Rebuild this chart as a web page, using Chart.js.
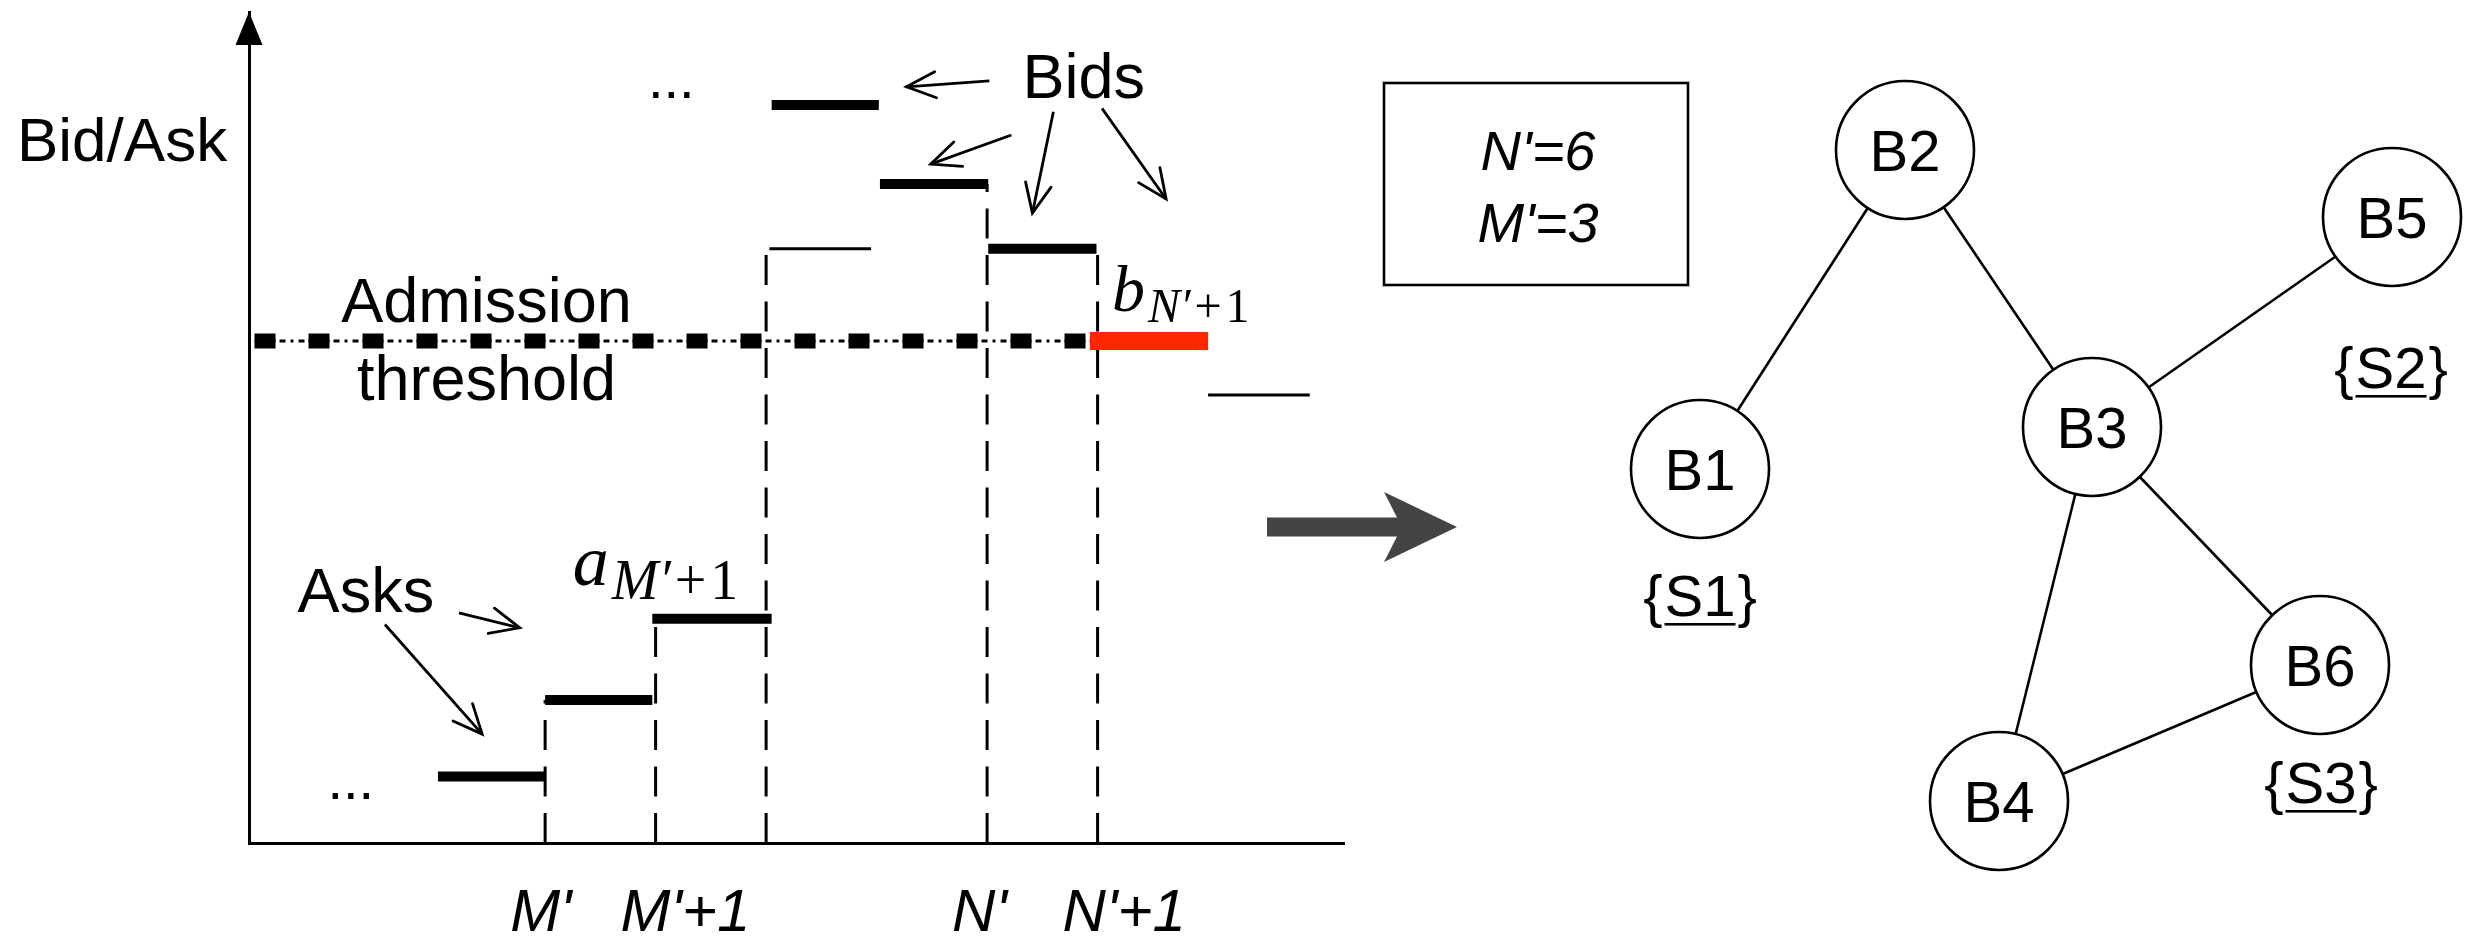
<!DOCTYPE html>
<html>
<head>
<meta charset="utf-8">
<title>Bid/Ask admission</title>
<style>
  body { margin: 0; background: #fff; }
  #wrap { position: relative; width: 2470px; height: 943px; overflow: hidden; background: #fff; }
  canvas { position: absolute; top: 0; }
  #left { left: 0; }
  #right { left: 1250px; }
</style>
</head>
<body>
<div id="wrap">
  <canvas id="left" width="1360" height="943"></canvas>
  <canvas id="right" width="1220" height="943"></canvas>
</div>
<script src="https://cdn.jsdelivr.net/npm/chart.js@4.4.1/dist/chart.umd.min.js"></script>
<script>
// left panel: slots along x, bid/ask level on y (0..100)
const askLevels = [8.0, 17.2, 27.0];
const askSlots = [[2.03, 3.0], [3.0, 3.97], [3.97, 5.05]];
const bidLevels = [88.8, 79.3, 71.5];
const bidSlots = [[5.05, 6.02], [6.03, 7.01], [7.01, 7.99]];
const cutBidLevel = 60.4;
const cutBidSlot = [7.93, 9.0];
const thinLevels = [71.5, 53.9];
const thinSlots = [[5.03, 5.95], [9.0, 9.92]];
const thresholdLevel = 60.4;
const thresholdSpan = [0.37, 7.93];
const dividerSlots = [3, 4, 5, 7, 8];
const dividerTops = [17.2, 27.0, 71.5, 79.3, 71.5];
const tickSlots = [3, 4, 7, 8];
const tickLabels = ["M'", "M'+1", "N'", "N'+1"];

// callout arrows (from label towards bar)
const bidArrowFrom = [[7.02, 91.7], [7.22, 85.2], [7.60, 88.0], [8.04, 88.4]];
const bidArrowTo = [[6.27, 91.0], [6.49, 81.7], [7.41, 75.8], [8.62, 77.5]];
const askArrowFrom = [[2.22, 27.7], [1.55, 26.3]];
const askArrowTo = [[2.77, 25.9], [2.43, 13.1]];

// right panel: buyer graph
const nodeNames = ['B1', 'B2', 'B3', 'B4', 'B5', 'B6'];
const nodeX = [4.50, 6.55, 8.42, 7.49, 11.42, 10.70];
const nodeY = [4.74, 7.93, 5.16, 1.42, 7.26, 2.78];
const edges = [['B1', 'B2'], ['B2', 'B3'], ['B3', 'B5'], ['B3', 'B4'], ['B3', 'B6'], ['B4', 'B6']];
const setNames = ['S1', 'S2', 'S3'];
const setX = [4.50, 11.41, 10.71];
const setY = [3.27, 5.55, 1.40];
const boxLines = ["N'=6", "M'=3"];

const SANS = "'Liberation Sans', Arial, sans-serif";
const SERIF = "'Liberation Serif', 'DejaVu Serif', serif";

function seg(a, b, lvl) { return [{x: a, y: lvl}, {x: b, y: lvl}]; }
function lineDs(data, extra) {
  return Object.assign({
    data: data, showLine: true, pointRadius: 0, borderColor: '#000',
    borderWidth: 3, fill: false, borderCapStyle: 'butt'
  }, extra);
}

const leftSets = [];
askSlots.forEach((s, i) => leftSets.push(lineDs(seg(s[0], s[1], askLevels[i]), {borderWidth: 10, order: 1})));
bidSlots.forEach((s, i) => leftSets.push(lineDs(seg(s[0], s[1], bidLevels[i]), {borderWidth: 10, order: 1})));
leftSets.push(lineDs(seg(cutBidSlot[0], cutBidSlot[1], cutBidLevel), {borderColor: '#ff2600', borderWidth: 18, order: 0}));
thinSlots.forEach((s, i) => leftSets.push(lineDs(seg(s[0], s[1], thinLevels[i]), {borderWidth: 3, order: 2})));
leftSets.push(lineDs(seg(thresholdSpan[0], thresholdSpan[1], thresholdLevel),
  {borderWidth: 3, borderDash: [21, 4, 6, 5, 3, 5, 6, 4], order: 3}));
leftSets.push(lineDs(seg(thresholdSpan[0], thresholdSpan[1], thresholdLevel),
  {borderWidth: 15, borderDash: [21, 33], order: 3}));
dividerSlots.forEach((s, i) => leftSets.push(lineDs([{x: s, y: 0}, {x: s, y: dividerTops[i]}],
  {borderWidth: 3, borderDash: [30, 16.5], order: 4})));
bidArrowFrom.concat(askArrowFrom).forEach((f, i) => {
  const t = bidArrowTo.concat(askArrowTo)[i];
  leftSets.push(lineDs([{x: f[0], y: f[1]}, {x: t[0], y: t[1]}], {borderWidth: 2.8, order: 2, arrow: true}));
});

function drawHead(ctx, x0, y0, x1, y1, len, ang, w) {
  const a = Math.atan2(y1 - y0, x1 - x0);
  ctx.save();
  ctx.strokeStyle = '#000';
  ctx.lineWidth = w;
  ctx.lineCap = 'round';
  ctx.beginPath();
  ctx.moveTo(x1 - len * Math.cos(a - ang), y1 - len * Math.sin(a - ang));
  ctx.lineTo(x1, y1);
  ctx.lineTo(x1 - len * Math.cos(a + ang), y1 - len * Math.sin(a + ang));
  ctx.stroke();
  ctx.restore();
}

// text drawn next to the bars: [text, slot, level, font, align]
const leftNotes = [
  ['Bid/Ask', -1.78, 82.1, '62px ' + SANS, 'left'],
  ['Bids', 7.32, 89.65, '63px ' + SANS, 'left'],
  ['...', 3.93, 89.6, '56px ' + SANS, 'left'],
  ['Admission', 2.47, 62.7, '63px ' + SANS, 'center'],
  ['threshold', 2.47, 53.3, '63px ' + SANS, 'center'],
  ['Asks', 0.76, 27.8, '63px ' + SANS, 'left'],
  ['...', 1.03, 5.3, '56px ' + SANS, 'left']
];
// math labels: [base, sub, slot, level, base size, sub size, sub drop]
const mathNotes = [
  ['a', 'M\u2032', '1', 3.25, 31.0, 72, 56, 14],
  ['b', 'N\u2032', '1', 8.13, 64.0, 66, 48, 11]
];

const leftDecor = {
  id: 'leftDecor',
  afterDatasetsDraw(chart) {
    const {ctx, chartArea} = chart;
    const sx = chart.scales.x, sy = chart.scales.y;
    chart.data.datasets.forEach((ds, i) => {
      if (!ds.arrow) return;
      const p = chart.getDatasetMeta(i).data;
      drawHead(ctx, p[0].x, p[0].y, p[1].x, p[1].y, 32, 0.42, 2.8);
    });
    // arrowhead on the value axis
    ctx.save();
    ctx.fillStyle = '#000';
    ctx.beginPath();
    ctx.moveTo(chartArea.left, chartArea.top);
    ctx.lineTo(chartArea.left - 13.5, chartArea.top + 33);
    ctx.lineTo(chartArea.left + 13.5, chartArea.top + 33);
    ctx.closePath();
    ctx.fill();
    ctx.textBaseline = 'alphabetic';
    leftNotes.forEach(n => {
      ctx.font = n[3];
      ctx.textAlign = n[4];
      ctx.fillText(n[0], sx.getPixelForValue(n[1]), sy.getPixelForValue(n[2]));
    });
    ctx.textAlign = 'left';
    mathNotes.forEach(m => {
      let px = sx.getPixelForValue(m[3]);
      const py = sy.getPixelForValue(m[4]);
      const sub = py + m[7];
      ctx.font = 'italic ' + m[5] + 'px ' + SERIF;
      ctx.fillText(m[0], px, py);
      px += ctx.measureText(m[0]).width + 3;
      ctx.font = 'italic ' + m[6] + 'px ' + SERIF;
      ctx.fillText(m[1], px, sub);
      px += ctx.measureText(m[1]).width + 4;
      ctx.font = m[6] + 'px ' + SERIF;
      ctx.fillText('+', px, sub);
      px += ctx.measureText('+').width + 4;
      ctx.fillText(m[2], px, sub);
    });
    ctx.restore();
  }
};

new Chart(document.getElementById('left'), {
  type: 'scatter',
  data: {datasets: leftSets},
  options: {
    responsive: false,
    animation: false,
    events: [],
    layout: {autoPadding: false, padding: {left: 249, top: 12, right: 16, bottom: 0}},
    plugins: {legend: {display: false}, tooltip: {enabled: false}},
    scales: {
      x: {
        type: 'linear', min: 0.32, max: 10.23,
        grid: {display: false, drawTicks: false},
        border: {display: true, color: '#000', width: 3},
        afterBuildTicks: s => { s.ticks = tickSlots.map(v => ({value: v})); },
        afterFit: s => { s.height = 100; },
        ticks: {
          callback: (v, i) => tickLabels[i],
          autoSkip: false, maxRotation: 0, align: 'start', labelOffset: -35, padding: 35,
          color: '#000', font: {family: SANS, style: 'italic', size: 60}
        }
      },
      y: {
        type: 'linear', min: 0, max: 100,
        grid: {display: false, drawTicks: false},
        border: {display: true, color: '#000', width: 3},
        ticks: {display: false},
        afterFit: s => { s.width = 0; }
      }
    }
  },
  plugins: [leftDecor]
});

// ---------- right panel ----------
const nodePts = nodeNames.map((n, i) => ({x: nodeX[i], y: nodeY[i]}));
const rightSets = [{
  data: nodePts, pointRadius: 69, pointBackgroundColor: '#fff',
  pointBorderColor: '#000', pointBorderWidth: 2.6, order: 0
}];
edges.forEach(e => {
  const a = nodePts[nodeNames.indexOf(e[0])], b = nodePts[nodeNames.indexOf(e[1])];
  rightSets.push(lineDs([a, b], {borderWidth: 2.6, order: 1}));
});

const rightDecor = {
  id: 'rightDecor',
  afterDatasetsDraw(chart) {
    const {ctx} = chart;
    const sx = chart.scales.x, sy = chart.scales.y;
    const X = v => sx.getPixelForValue(v), Y = v => sy.getPixelForValue(v);
    ctx.save();
    // transition arrow
    ctx.fillStyle = '#444';
    const ay = Y(4.16);
    ctx.beginPath();
    ctx.moveTo(X(0.17), ay - 9.5);
    ctx.lineTo(X(1.47), ay - 9.5);
    ctx.lineTo(X(1.34), ay - 35);
    ctx.lineTo(X(2.07), ay);
    ctx.lineTo(X(1.34), ay + 35);
    ctx.lineTo(X(1.47), ay + 9.5);
    ctx.lineTo(X(0.17), ay + 9.5);
    ctx.closePath();
    ctx.fill();
    // parameter box
    ctx.strokeStyle = '#000';
    ctx.lineWidth = 2.6;
    ctx.strokeRect(X(1.34), Y(8.60), X(4.38) - X(1.34), Y(6.58) - Y(8.60));
    ctx.fillStyle = '#000';
    ctx.textAlign = 'center';
    ctx.textBaseline = 'alphabetic';
    ctx.font = 'italic 56px ' + SANS;
    ctx.fillText(boxLines[0], X(2.88), Y(7.73));
    ctx.fillText(boxLines[1], X(2.88), Y(7.01));
    // node names
    ctx.font = '58px ' + SANS;
    chart.getDatasetMeta(0).data.forEach((p, i) => {
      ctx.fillText(nodeNames[i], p.x, p.y + 21);
    });
    // seller sets under buyers
    ctx.font = '58px ' + SANS;
    ctx.textAlign = 'left';
    setNames.forEach((s, i) => {
      const wb = ctx.measureText('{').width, ws = ctx.measureText(s).width;
      const total = wb * 2 + ws + 4;
      let px = X(setX[i]) - total / 2;
      const py = Y(setY[i]);
      ctx.fillText('{', px, py);
      ctx.fillText(s, px + wb + 2, py);
      ctx.fillText('}', px + wb + ws + 4, py);
      ctx.fillRect(px + wb + 2, py + 7, ws, 2.6);
    });
    ctx.restore();
  }
};

new Chart(document.getElementById('right'), {
  type: 'scatter',
  data: {datasets: rightSets},
  options: {
    responsive: false,
    animation: false,
    events: [],
    layout: {autoPadding: false, padding: 0},
    plugins: {legend: {display: false}, tooltip: {enabled: false}},
    scales: {
      x: {type: 'linear', min: 0, max: 12.2, display: false},
      y: {type: 'linear', min: 0, max: 9.43, display: false}
    }
  },
  plugins: [rightDecor]
});
</script>
</body>
</html>
